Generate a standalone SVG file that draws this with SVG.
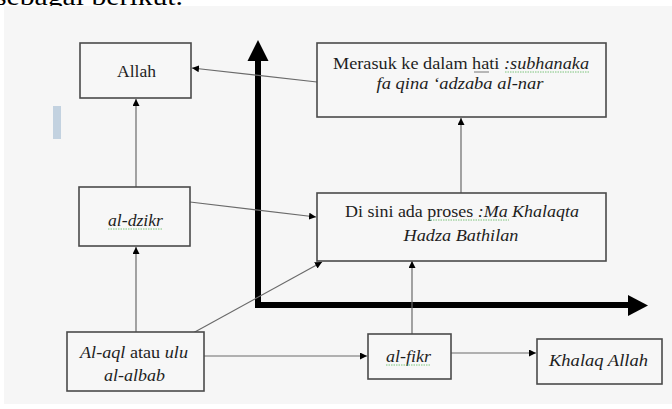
<svg xmlns="http://www.w3.org/2000/svg" width="672" height="409" viewBox="0 0 672 409">
<defs>
<style>
.box{fill:#f7f7f7;stroke:#4a4a4a;stroke-width:1.6}
.t{font-family:"Liberation Serif","Times New Roman",serif;font-size:17px;fill:#1e1e1e;text-anchor:middle}
.i{font-style:italic}
.c{fill:none;stroke:#6a6a6a;stroke-width:1.2}
.sq{fill:none;stroke:#7cc47c;stroke-width:1;stroke-dasharray:1.5 1}
.ax{fill:none;stroke:#000;stroke-width:6}
</style>
<marker id="ah" viewBox="0 0 10 10" refX="10" refY="5" markerWidth="7" markerHeight="7" markerUnits="userSpaceOnUse" orient="auto">
<path d="M0,0 L10,5 L0,10 z" fill="#000"/>
</marker>
</defs>
<rect x="0" y="0" width="672" height="409" fill="#ffffff"/>
<text x="-5" y="5" textLength="188" lengthAdjust="spacingAndGlyphs" style="font-family:'Liberation Serif','Times New Roman',serif;font-size:25px;fill:#000">sebagai berikut.</text>
<rect x="4" y="6" width="668" height="398" fill="#f6f6f6"/>
<rect x="53" y="106" width="8" height="33" fill="#c3d2e0"/>

<g id="axes">
<path class="ax" d="M258,305 V58"/>
<path d="M247.5,61 L258,40 L268.5,61 z" fill="#000"/>
<path class="ax" d="M255,305 H630"/>
<path d="M628,295 L648,305.5 L628,316 z" fill="#000"/>
</g>

<g id="connectors">
<path class="c" d="M136,187 V99" marker-end="url(#ah)"/>
<path class="c" d="M136,333 V247" marker-end="url(#ah)"/>
<path class="c" d="M317,82 L192,68" marker-end="url(#ah)"/>
<path class="c" d="M190,202 L316,217" marker-end="url(#ah)"/>
<path class="c" d="M193,333 L322,262" marker-end="url(#ah)"/>
<path class="c" d="M461,193 V118" marker-end="url(#ah)"/>
<path class="c" d="M412,334 V261" marker-end="url(#ah)"/>
<path class="c" d="M204,356 H367" marker-end="url(#ah)"/>
<path class="c" d="M451,353 H536" marker-end="url(#ah)"/>
</g>

<g id="allah">
<rect class="box" x="80" y="43" width="111" height="55"/>
<text class="t" x="136.5" y="77" textLength="39" lengthAdjust="spacingAndGlyphs">Allah</text>
</g>

<g id="merasuk">
<rect class="box" x="317" y="43" width="289" height="74"/>
<text class="t" x="461" y="69" textLength="256" lengthAdjust="spacingAndGlyphs">Merasuk ke dalam hati <tspan class="i">:subhanaka</tspan></text>
<text class="t i" x="460" y="89" textLength="167" lengthAdjust="spacingAndGlyphs">fa qina  ‘adzaba al-nar</text>
<path d="M474,72 H489" stroke="#555" stroke-width="0.8"/>
<path class="sq" d="M505,72 H590"/>
</g>

<g id="dzikr">
<rect class="box" x="79" y="187" width="111" height="59"/>
<text class="t i" x="135.5" y="226" textLength="55" lengthAdjust="spacingAndGlyphs">al-dzikr</text>
<path class="sq" d="M108,229 H163"/>
</g>

<g id="disini">
<rect class="box" x="317" y="193" width="289" height="68"/>
<text class="t" x="462" y="217" textLength="234" lengthAdjust="spacingAndGlyphs">Di sini ada proses <tspan class="i">:Ma Khalaqta</tspan></text>
<text class="t i" x="461" y="241" textLength="115" lengthAdjust="spacingAndGlyphs">Hadza Bathilan</text>
<path class="sq" d="M428,220 H509"/>
</g>

<g id="alaql">
<rect class="box" x="67" y="332" width="137" height="59"/>
<text class="t" x="134" y="358" textLength="108" lengthAdjust="spacingAndGlyphs"><tspan class="i">Al-aql</tspan> atau <tspan class="i">ulu</tspan></text>
<text class="t i" x="134.5" y="381" textLength="61" lengthAdjust="spacingAndGlyphs">al-albab</text>
</g>

<g id="fikr">
<rect class="box" x="368" y="334" width="83" height="45"/>
<text class="t i" x="408.5" y="362" textLength="45" lengthAdjust="spacingAndGlyphs">al-fikr</text>
<path class="sq" d="M386,365 H431"/>
</g>

<g id="khalaq">
<rect class="box" x="537" y="339" width="125" height="45"/>
<text class="t i" x="598.5" y="366" textLength="99" lengthAdjust="spacingAndGlyphs">Khalaq Allah</text>
</g>
</svg>
